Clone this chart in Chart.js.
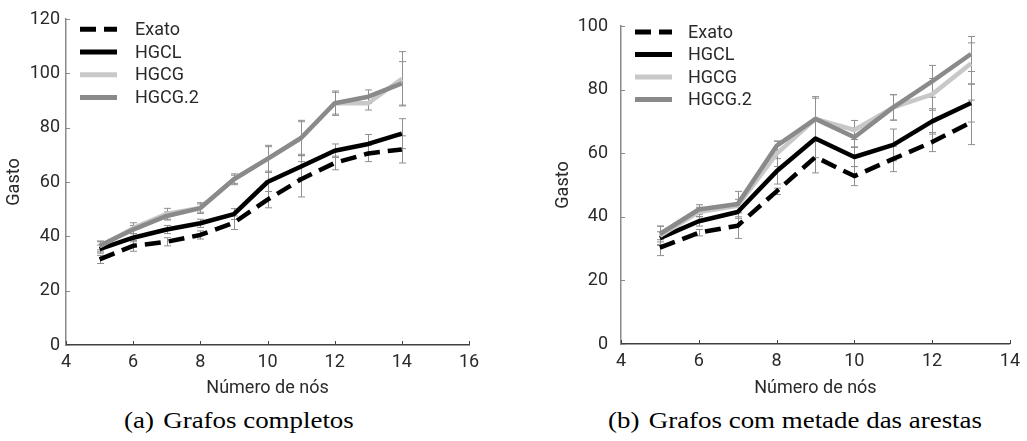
<!DOCTYPE html>
<html>
<head>
<meta charset="utf-8">
<script src="https://cdn.jsdelivr.net/npm/chart.js@4.4.0/dist/chart.umd.min.js"></script>
<style>
  body { margin: 0; width: 1027px; height: 441px; background: #fff; position: relative; overflow: hidden; }
  #boxA { position: absolute; left: 0; top: 0; }
  #boxB { position: absolute; left: 549px; top: 0; }
  .cap { position: absolute; top: 408px; font-family: "Liberation Serif", serif; font-size: 23px; color: #000;
         white-space: nowrap; transform: scaleX(1.17); transform-origin: left top; }
  .cap span { margin-left: 8px; }
</style>
</head>
<body>
<canvas id="boxA" width="500" height="403"></canvas>
<canvas id="boxB" width="478" height="403"></canvas>
<div class="cap" style="left:124px">(a)<span>Grafos completos</span></div>
<div class="cap" style="left:608px">(b)<span>Grafos com metade das arestas</span></div>
<script>
// (a) grafos completos
const nodesA = [5, 6, 7, 8, 9, 10, 11, 12, 13, 14];
const exatoA  = [31.5, 36.5, 38, 40.5, 45, 53.5, 61, 67, 70.5, 72];
const hgclA   = [35.3, 39.5, 42.5, 44.8, 48.2, 60, 65.7, 71.5, 74, 77.8];
const hgcgA   = [36.3, 43, 48.3, 50.4, 61, 68.5, 76.2, 89, 89, 98];
const hgcg2A  = [36.5, 42.5, 47.5, 50.4, 61, 68.5, 76.2, 89, 91.4, 96.3];
const exatoErrA = [1.5, 2, 1.5, 1.5, 2.5, 3, 6.5, 2.5, 3, 5];
const hgclErrA  = [1.5, 1.5, 1.5, 1.5, 2, 3.5, 4, 2.5, 3.5, 5.5];
const hgcgErrA  = [2, 2, 2, 2, 2, 5, 6.5, 4.5, 2.5, 10];
const hgcg2ErrA = [1.5, 1.5, 1.5, 1.5, 1.5, 4.5, 6, 4, 2.5, 8];

// (b) grafos com metade das arestas
const nodesB = [5, 6, 7, 8, 9, 10, 11, 12, 13];
const exatoB  = [30.3, 35, 37.2, 48, 58.8, 52.8, 58.2, 63.5, 69.7];
const hgclB   = [33.3, 38.6, 41.5, 54.3, 64.6, 58.8, 62.6, 70, 75.8];
const hgcgB   = [34, 41.5, 43.5, 59.8, 70.8, 67.3, 74.4, 78.5, 88.2];
const hgcg2B  = [34.6, 42.3, 44, 62.3, 70.8, 65, 74.4, 82.6, 91.2];
const exatoErrB = [2.5, 1, 4, 1, 5, 3, 4, 3, 7];
const hgclErrB  = [2, 1.5, 2, 4, 6, 3, 5, 4, 6];
const hgcgErrB  = [3, 1.5, 2, 4, 6.5, 3, 4, 5, 6.5];
const hgcg2ErrB = [2.5, 1.5, 4, 1.5, 7, 3, 4, 5, 5.5];

const seriesNames = ['Exato', 'HGCL', 'HGCG', 'HGCG.2'];
const seriesColors = ['#000000', '#000000', '#c8c8c8', '#8a8a8a'];
const seriesDash = [[16, 8], [], [], []];

Chart.defaults.font.family = 'Roboto';
Chart.defaults.font.size = 18;
Chart.defaults.color = '#2a2a2a';

// gray error bars with caps, under the lines
const errorBars = {
  id: 'errorBars',
  beforeDatasetsDraw(chart) {
    const { ctx, scales: { x, y } } = chart;
    ctx.save();
    ctx.strokeStyle = '#8f8f8f';
    ctx.lineWidth = 1;
    chart.data.datasets.forEach(ds => {
      ds.data.forEach((p, i) => {
        const e = ds.errors[i];
        const px = Math.round(x.getPixelForValue(p.x)) + 0.5;
        const top = y.getPixelForValue(p.y + e);
        const bot = y.getPixelForValue(p.y - e);
        ctx.beginPath();
        ctx.moveTo(px, top); ctx.lineTo(px, bot);
        ctx.moveTo(px - 3.5, top); ctx.lineTo(px + 3.5, top);
        ctx.moveTo(px - 3.5, bot); ctx.lineTo(px + 3.5, bot);
        ctx.stroke();
      });
    });
    ctx.restore();
  }
};

// inner tick marks + legend inside the plot
const extras = {
  id: 'extras',
  afterDraw(chart, args, o) {
    const { ctx, chartArea: a, scales: { x, y } } = chart;
    ctx.save();
    ctx.lineWidth = 1;
    ctx.strokeStyle = '#444';
    ctx.beginPath();
    x.ticks.forEach(t => {
      const px = Math.round(x.getPixelForValue(t.value)) + 0.5;
      ctx.moveTo(px, a.bottom); ctx.lineTo(px, a.bottom - 4);
    });
    ctx.stroke();
    ctx.strokeStyle = '#8a8a8a';
    ctx.beginPath();
    y.ticks.forEach(t => {
      const py = Math.round(y.getPixelForValue(t.value)) + 0.5;
      ctx.moveTo(a.left, py); ctx.lineTo(a.left + 4, py);
    });
    ctx.stroke();

    ctx.font = '18px Roboto';
    ctx.textBaseline = 'middle';
    ctx.fillStyle = '#2a2a2a';
    chart.data.datasets.forEach((ds, i) => {
      const ly = a.top + o.top + i * o.gap;
      ctx.beginPath();
      ctx.strokeStyle = ds.borderColor;
      ctx.lineWidth = 5;
      ctx.setLineDash(ds.borderDash);
      ctx.moveTo(a.left + o.lineX, ly);
      ctx.lineTo(a.left + o.lineX + 37, ly);
      ctx.stroke();
      ctx.setLineDash([]);
      ctx.fillText(ds.label, a.left + o.textX, ly + 1);
    });
    ctx.restore();
  }
};

function makeChart(id, nodes, values, errors, xMax, yMax, cfg) {
  const datasets = values.map((vals, i) => ({
    label: seriesNames[i],
    data: nodes.map((n, j) => ({ x: n, y: vals[j] })),
    errors: errors[i],
    borderColor: seriesColors[i],
    borderDash: seriesDash[i],
    borderWidth: 4.5,
    borderJoinStyle: 'round',
    pointRadius: 0,
    tension: 0,
    order: values.length - i
  }));
  return new Chart(document.getElementById(id), {
    type: 'line',
    data: { datasets },
    plugins: [errorBars, extras],
    options: {
      responsive: false,
      animation: false,
      devicePixelRatio: 1,
      layout: { padding: { top: cfg.top, right: cfg.right, left: 0, bottom: 0 } },
      plugins: {
        legend: { display: false },
        tooltip: { enabled: false },
        extras: cfg.legend
      },
      scales: {
        x: {
          type: 'linear',
          min: 4, max: xMax,
          grid: { display: false, drawTicks: false },
          border: { color: '#404040', width: 1.5 },
          ticks: { stepSize: 2, padding: 7 },
          title: { display: true, text: 'Número de nós' },
          afterFit: s => { s.height = cfg.xHeight; }
        },
        y: {
          min: 0, max: yMax,
          grid: { display: false, drawTicks: false },
          border: { color: '#8a8a8a', width: 1.5 },
          ticks: { stepSize: 20, padding: cfg.yPad },
          title: { display: true, text: 'Gasto' },
          afterFit: s => { s.width = cfg.yWidth; }
        }
      }
    }
  });
}

makeChart('boxA', nodesA, [exatoA, hgclA, hgcgA, hgcg2A],
  [exatoErrA, hgclErrA, hgcgErrA, hgcg2ErrA], 16, 120,
  { top: 19, right: 31, xHeight: 58, yWidth: 66, yPad: 6,
    legend: { top: 10.3, gap: 22.7, lineX: 14, textX: 69 } });

makeChart('boxB', nodesB, [exatoB, hgclB, hgcgB, hgcg2B],
  [exatoErrB, hgclErrB, hgcgErrB, hgcg2ErrB], 14, 100,
  { top: 26, right: 9, xHeight: 59, yWidth: 72, yPad: 13,
    legend: { top: 6, gap: 22.5, lineX: 14, textX: 67 } });
</script>
</body>
</html>
